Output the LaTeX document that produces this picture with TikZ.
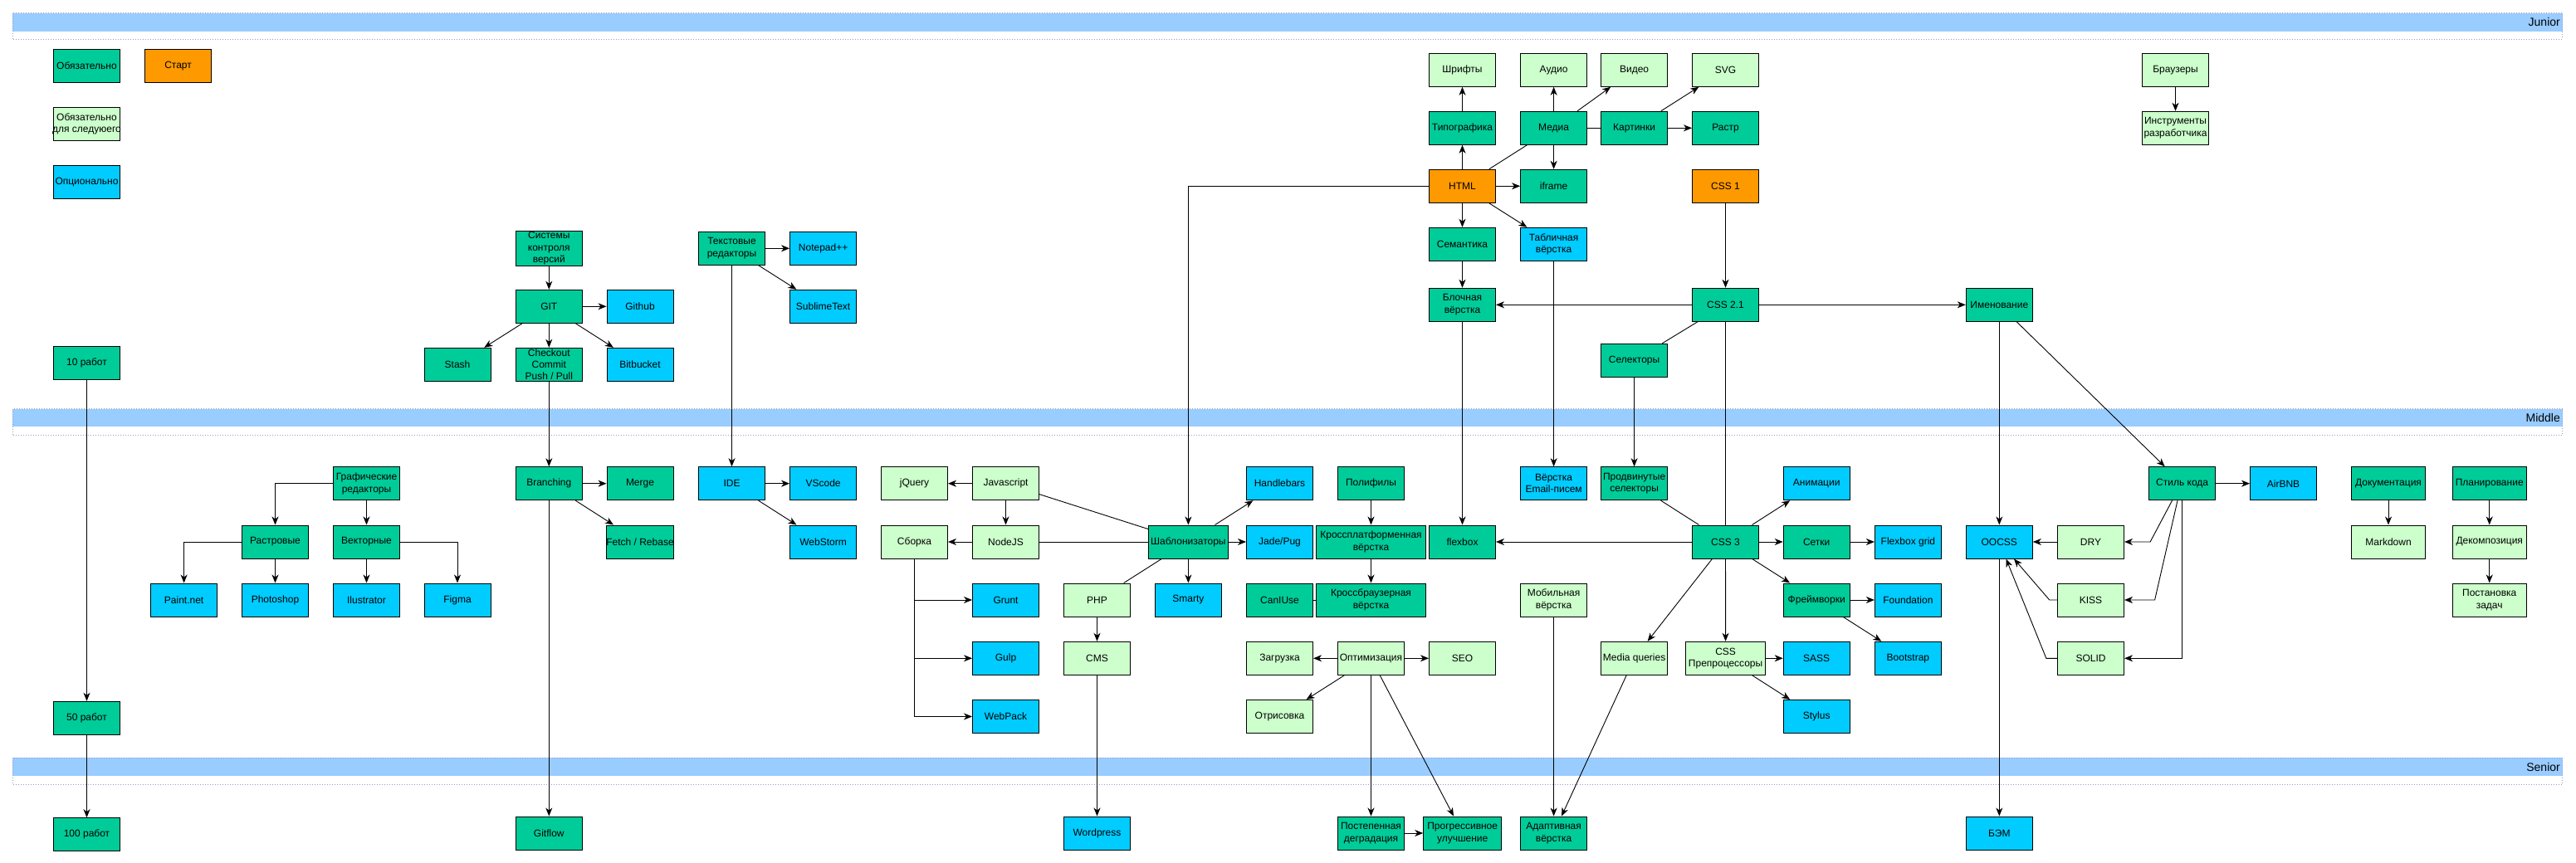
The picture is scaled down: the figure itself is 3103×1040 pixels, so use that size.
\documentclass[tikz,border=0pt]{standalone}
\usepackage{fontspec}
\setmainfont{Liberation Sans}
\usetikzlibrary{arrows.meta,calc}
\definecolor{reqc}{HTML}{00CC99}
\definecolor{nxtc}{HTML}{CCFFCC}
\definecolor{optc}{HTML}{00CCFF}
\definecolor{stc}{HTML}{FF9900}
\definecolor{lanec}{HTML}{99CCFF}
\definecolor{dotc}{HTML}{9A9ACC}
\begin{document}
\begin{tikzpicture}[x=1pt,y=-1pt,
  box/.style={draw=black,line width=1pt,minimum width=80pt,minimum height=40pt,inner xsep=0pt,inner ysep=1pt,align=center,font=\fontsize{12pt}{14.4pt}\selectfont},
  req/.style={box,fill=reqc},
  nxt/.style={box,fill=nxtc},
  opt/.style={box,fill=optc},
  startbox/.style={box,fill=stc},
  arr/.style={line width=0.9pt,-{Stealth[length=10pt,width=8pt,inset=3pt]}},
  ln/.style={line width=0.9pt},
  lanefill/.style={fill=lanec},
  laneline/.style={draw=dotc,line width=0.8pt,dash pattern=on 1pt off 2pt},
  lanelabel/.style={anchor=east,inner sep=0pt,font=\fontsize{14pt}{16pt}\selectfont}
]
\useasboundingbox (0,0) rectangle (3103,1040);
\fill[white] (0,0) rectangle (3103,1040);

% lanes
\fill[lanefill] (15,15.7) rectangle (3086.5,37.7);
\draw[laneline] (15,15.7) rectangle (3086.5,47.3);
\node[lanelabel] (ljun) at (3084,26.7) {Junior};
\fill[lanefill] (15,492.5) rectangle (3086.5,514);
\draw[laneline] (15,492.5) rectangle (3086.5,524.4);
\node[lanelabel] (lmid) at (3084,503.3) {Middle};
\fill[lanefill] (15,913.2) rectangle (3086.5,934.7);
\draw[laneline] (15,913.2) rectangle (3086.5,945.4);
\node[lanelabel] (lsen) at (3084,924) {Senior};

% legend
\node[req] (leg1) at (104.5,79.3) {Обязательно};
\node[startbox] (leg0) at (214.6,79.3) {Старт};
\node[nxt] (leg2) at (104.5,149.3) {\makebox[0pt]{Обязательно}\\\makebox[0pt]{для следуюего}};
\node[opt] (leg3) at (104.5,219.3) {Опционально};
\node[req] (r10) at (104.5,437.3) {10 работ};
\node[req] (r50) at (104.5,865.3) {50 работ};
\node[req] (r100) at (104.5,1005.7) {100 работ};

% VCS
\node[req] (vcs) at (661.3,299.3) {Системы\\контроля\\версий};
\node[req] (git) at (661.3,369.3) {GIT};
\node[opt] (github) at (771,369.3) {Github};
\node[req] (stash) at (551,439.3) {Stash};
\node[req] (checkout) at (661.3,439.3) {Checkout\\Commit\\Push / Pull};
\node[opt] (bitbucket) at (771,439.3) {Bitbucket};
\node[req] (branching) at (661.3,582.7) {Branching};
\node[req] (merge) at (771,582.7) {Merge};
\node[req] (fetch) at (771,653) {Fetch / Rebase};
\node[req] (gitflow) at (661.3,1004) {Gitflow};

% graphics
\node[req] (graf) at (441.5,582.7) {Графические\\редакторы};
\node[req] (rastr) at (331.5,653) {Растровые};
\node[req] (vect) at (441.5,653) {Векторные};
\node[opt] (paint) at (221.6,723) {Paint.net};
\node[opt] (photoshop) at (331.5,723) {Photoshop};
\node[opt] (ilus) at (441.5,723) {Ilustrator};
\node[opt] (figma) at (551,723) {Figma};

% editors
\node[req] (txt) at (881.5,299.3) {Текстовые\\редакторы};
\node[opt] (notepad) at (991.6,299.3) {Notepad++};
\node[opt] (sublime) at (991.6,369.3) {SublimeText};
\node[opt] (ide) at (881.5,582.7) {IDE};
\node[opt] (vscode) at (991.6,582.7) {VScode};
\node[opt] (webstorm) at (991.6,653) {WebStorm};

% JS
\node[nxt] (jquery) at (1101.5,582.7) {jQuery};
\node[nxt] (js) at (1211.5,582.7) {Javascript};
\node[nxt] (sborka) at (1101.5,653) {Сборка};
\node[nxt] (nodejs) at (1211.5,653) {NodeJS};
\node[opt] (grunt) at (1211.5,723) {Grunt};
\node[opt] (gulp) at (1211.5,793.3) {Gulp};
\node[opt] (webpack) at (1211.5,863.5) {WebPack};
\node[nxt] (php) at (1321.5,723) {PHP};
\node[nxt] (cms) at (1321.5,793.3) {CMS};
\node[opt] (wordpress) at (1321.5,1004) {Wordpress};
\node[req,minimum width=96pt] (shab) at (1431.4,653) {Шаблонизаторы};
\node[opt] (smarty) at (1431.4,723) {Smarty};
\node[opt] (handlebars) at (1541.5,582.7) {Handlebars};
\node[opt] (jade) at (1541.5,653) {Jade/Pug};
\node[req] (caniuse) at (1541.5,723) {CanIUse};
\node[nxt] (zagr) at (1541.5,793.3) {Загрузка};
\node[nxt] (otris) at (1541.5,863.5) {Отрисовка};

% polyfills / optimisation
\node[req] (poly) at (1651.5,582.7) {Полифилы};
\node[req,minimum width=132pt] (crossp) at (1651.5,653) {Кроссплатформенная\\вёрстка};
\node[req,minimum width=132pt] (crossb) at (1651.5,723) {Кроссбраузерная\\вёрстка};
\node[nxt] (opti) at (1651.5,793.3) {Оптимизация};
\node[nxt] (seo) at (1761.5,793.3) {SEO};
\node[req] (degr) at (1651.5,1004) {Постепенная\\деградация};
\node[req,minimum width=94pt] (progr) at (1761.7,1004) {Прогрессивное\\улучшение};
\node[req] (flexbox) at (1761.5,653) {flexbox};

% HTML block
\node[nxt] (fonts) at (1761.5,84.3) {Шрифты};
\node[nxt] (audio) at (1871.6,84.3) {Аудио};
\node[nxt] (video) at (1968.6,84.3) {Видео};
\node[nxt] (svg) at (2078.5,84.3) {SVG};
\node[req] (typo) at (1761.5,154.3) {Типографика};
\node[req] (media) at (1871.6,154.3) {Медиа};
\node[req] (pics) at (1968.6,154.3) {Картинки};
\node[req] (raster) at (2078.5,154.3) {Растр};
\node[startbox] (html) at (1761.5,224.3) {HTML};
\node[req] (iframe) at (1871.6,224.3) {iframe};
\node[startbox] (css1) at (2078.5,224.3) {CSS 1};
\node[req] (sem) at (1761.5,294.3) {Семантика};
\node[opt] (table) at (1871.6,294.3) {Табличная\\вёрстка};
\node[req] (block) at (1761.5,367.3) {Блочная\\вёрстка};
\node[req] (css21) at (2078.5,367.3) {CSS 2.1};
\node[req] (sel) at (1968.6,434.3) {Селекторы};
\node[req] (naming) at (2408.3,367.3) {Именование};
\node[nxt] (browsers) at (2620.5,84.3) {Браузеры};
\node[nxt] (devtools) at (2620.5,154.3) {Инструменты\\разработчика};

% CSS middle
\node[opt] (email) at (1871.6,582.7) {Вёрстка\\Email-писем};
\node[req] (advsel) at (1968.6,582.7) {Продвинутые\\селекторы};
\node[nxt] (mobile) at (1871.6,723) {Мобильная\\вёрстка};
\node[req] (adapt) at (1871.6,1004) {Адаптивная\\вёрстка};
\node[nxt] (mq) at (1968.6,793.3) {Media queries};
\node[req] (css3) at (2078.5,653) {CSS 3};
\node[opt] (anim) at (2188.2,582.7) {Анимации};
\node[req] (grids) at (2188.2,653) {Сетки};
\node[opt] (fgrid) at (2298.4,653) {Flexbox grid};
\node[req] (fw) at (2188.2,723) {Фреймворки};
\node[opt] (foundation) at (2298.4,723) {Foundation};
\node[opt] (bootstrap) at (2298.4,793.3) {Bootstrap};
\node[nxt,minimum width=96pt] (prep) at (2078.6,793.3) {CSS\\Препроцессоры};
\node[opt] (sass) at (2188.2,793.3) {SASS};
\node[opt] (stylus) at (2188.2,863.5) {Stylus};

% right part
\node[opt] (oocss) at (2408.3,653) {OOCSS};
\node[opt] (bem) at (2408.3,1004) {БЭМ};
\node[nxt] (dry) at (2518.5,653) {DRY};
\node[nxt] (kiss) at (2518.5,723) {KISS};
\node[nxt] (solid) at (2518.5,793.3) {SOLID};
\node[req] (codestyle) at (2628.6,582.7) {Стиль кода};
\node[opt] (airbnb) at (2750.5,582.7) {AirBNB};
\node[req,minimum width=89pt] (docs) at (2877,582.7) {Документация};
\node[nxt,minimum width=89pt] (markdown) at (2877,653) {Markdown};
\node[req,minimum width=89pt] (plan) at (2998.7,582.7) {Планирование};
\node[nxt,minimum width=89pt] (decomp) at (2998.7,653) {Декомпозиция};
\node[nxt,minimum width=89pt] (tasks) at (2998.7,723) {Постановка\\задач};

% ---- connectors ----
\draw[arr] (r10) -- (r50);
\draw[arr] (r50) -- (r100);

\draw[arr] (vcs) -- (git);
\draw[arr] (git) -- (github);
\draw[arr] (git) -- (stash);
\draw[arr] (git) -- (checkout);
\draw[arr] (git) -- (bitbucket);
\draw[arr] (checkout) -- (branching);
\draw[arr] (branching) -- (merge);
\draw[arr] (branching) -- (fetch);
\draw[arr] (branching) -- (gitflow);

\draw[arr] (graf.west) -| (rastr.north);
\draw[arr] (graf) -- (vect);
\draw[arr] (rastr.west) -| (paint.north);
\draw[arr] (rastr) -- (photoshop);
\draw[arr] (vect) -- (ilus);
\draw[arr] (vect.east) -| (figma.north);

\draw[arr] (txt) -- (notepad);
\draw[arr] (txt) -- (sublime);
\draw[arr] (txt) -- (ide);
\draw[arr] (ide) -- (vscode);
\draw[arr] (ide) -- (webstorm);

\draw[arr] (js) -- (jquery);
\draw[arr] (js) -- (nodejs);
\draw[arr] (nodejs) -- (sborka);
\draw[arr] (sborka.south) |- (grunt.west);
\draw[arr] (sborka.south) |- (gulp.west);
\draw[arr] (sborka.south) |- (webpack.west);
\draw[ln] (js) -- (shab);
\draw[ln] (nodejs) -- (shab);
\draw[arr] (html.west) -| (shab.north);
\draw[arr] (shab) -- (handlebars);
\draw[arr] (shab) -- (jade);
\draw[arr] (shab) -- (smarty);
\draw[ln] (shab) -- (php);
\draw[arr] (php) -- (cms);
\draw[arr] (cms) -- (wordpress);
\draw[ln] (caniuse) -- (crossb);

\draw[arr] (poly) -- (crossp);
\draw[arr] (crossp) -- (crossb);
\draw[arr] (opti) -- (zagr);
\draw[arr] (opti) -- (otris);
\draw[arr] (opti) -- (seo);
\draw[arr] (opti) -- (degr);
\draw[arr] (opti) -- (progr);
\draw[arr] (degr) -- (progr);

\draw[arr] (typo) -- (fonts);
\draw[arr] (html) -- (typo);
\draw[arr] (media) -- (audio);
\draw[arr] (media) -- (video);
\draw[ln] (media) -- (pics);
\draw[arr] (pics) -- (raster);
\draw[arr] (pics) -- (svg);
\draw[ln] (html) -- (media);
\draw[arr] (media) -- (iframe);
\draw[arr] (html) -- (iframe);
\draw[arr] (html) -- (sem);
\draw[arr] (html) -- (table);
\draw[arr] (sem) -- (block);
\draw[arr] (css1) -- (css21);
\draw[arr] (css21) -- (block);
\draw[arr] (css21) -- (naming);
\draw[ln] (css21) -- (sel);
\draw[arr] (browsers) -- (devtools);

\draw[arr] (sel) -- (advsel);
\draw[arr] (table) -- (email);
\draw[arr] (block) -- (flexbox);
\draw[ln] (css21) -- (css3);
\draw[ln] (advsel) -- (css3);
\draw[arr] (css3) -- (flexbox);
\draw[arr] (css3) -- (anim);
\draw[arr] (css3) -- (grids);
\draw[arr] (grids) -- (fgrid);
\draw[arr] (css3) -- (fw);
\draw[arr] (fw) -- (foundation);
\draw[arr] (fw) -- (bootstrap);
\draw[arr] (css3) -- (mq);
\draw[arr] (css3) -- (prep);
\draw[arr] (prep) -- (sass);
\draw[arr] (prep) -- (stylus);
\draw[arr] (mobile) -- (adapt);
\draw[arr] (mq) -- (adapt);

\draw[arr] (naming) -- (oocss);
\draw[arr] (oocss) -- (bem);
\draw[arr] (naming) -- (codestyle);
\draw[arr] (codestyle) -- (airbnb);
\draw[arr] ([xshift=-12.1pt]codestyle.south) -- (2590.1,653) -- (dry.east);
\draw[arr] ([xshift=-5.6pt]codestyle.south) -- (2595.6,723) -- (kiss.east);
\draw[arr] (codestyle.south) |- (solid.east);
\draw[arr] (dry) -- (oocss);
\draw[arr] (kiss.west) -- (2468.7,723) -- ([xshift=17.7pt]oocss.south);
\draw[arr] (solid.west) -- (2464.8,793.3) -- ([xshift=8.2pt]oocss.south);
\draw[arr] (docs) -- (markdown);
\draw[arr] (plan) -- (decomp);
\draw[arr] (decomp) -- (tasks);
\end{tikzpicture}
\end{document}
